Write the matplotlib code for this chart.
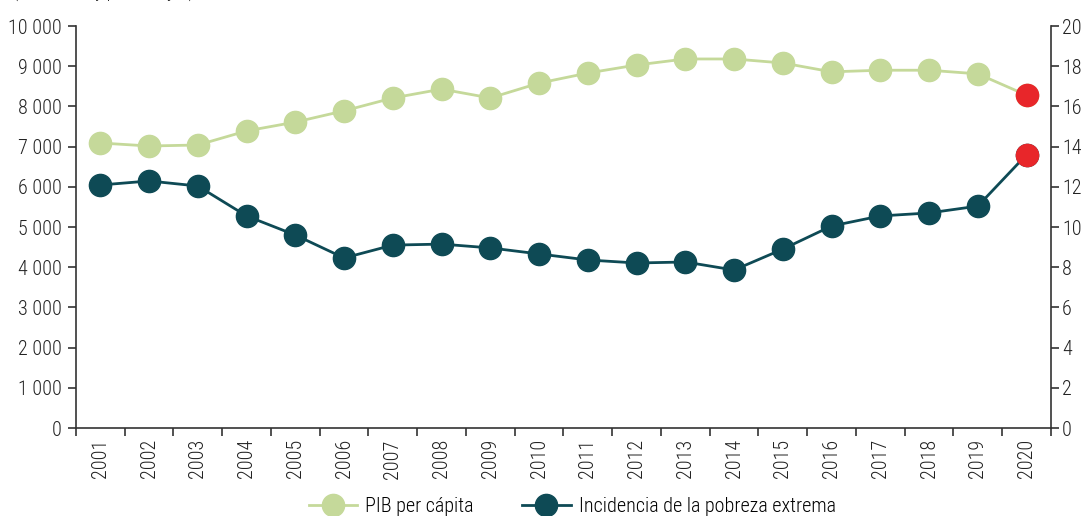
import matplotlib.pyplot as plt
import numpy as np
from matplotlib.lines import Line2D

years = [str(y) for y in range(2001, 2021)]
pib = [7090, 7015, 7040, 7390, 7610, 7890, 8210, 8430, 8210, 8580,
       8830, 9030, 9180, 9180, 9080, 8860, 8900, 8900, 8810, 8280]
pobreza = [12.09, 12.29, 12.04, 10.55, 9.6, 8.46, 9.1, 9.15, 8.96, 8.66,
           8.36, 8.21, 8.26, 7.86, 8.9, 10.05, 10.55, 10.7, 11.04, 13.6]
y_left = list(range(0, 10001, 1000))
y_right = list(range(0, 21, 2))

verde = "#c5d99a"
azul = "#0e4a55"
rojo = "#e8262a"

plt.rcParams['font.family'] = ['Roboto Condensed', 'DejaVu Sans']
plt.rcParams['font.weight'] = 'light'

fig = plt.figure(figsize=(10.82, 5.16), dpi=100)
ax = fig.add_axes([0.0702, 0.1705, 0.9011, 0.7791])
ax2 = ax.twinx()

x = np.arange(len(years))
ax.plot(x, pib, color=verde, lw=2, marker="o", ms=16, zorder=3)
ax.plot(x[-1], pib[-1], "o", color=rojo, ms=16, zorder=4)
ax2.plot(x, pobreza, color=azul, lw=2, marker="o", ms=16, zorder=3)
ax2.plot(x[-1], pobreza[-1], "o", color=rojo, ms=16, zorder=4)

ax.set_xlim(-0.5, len(years) - 0.5)
ax.set_ylim(0, 10000)
ax2.set_ylim(0, 20)
ax.set_yticks(y_left)
ax.set_yticklabels([f"{v:,}".replace(",", " ") for v in y_left])
ax2.set_yticks(y_right)

# ticks en los bordes de cada año, etiquetas centradas
ax.set_xticks(np.arange(-0.5, len(years), 1))
ax.set_xticklabels([])
ax.set_xticks(x, minor=True)
ax.set_xticklabels(years, minor=True, rotation=90)

for a in (ax, ax2):
    a.spines["top"].set_visible(False)
    a.tick_params(which="both", labelsize=14.5, color="#333333", labelcolor="#222222",
                  length=6, width=1.2)
    for s in a.spines.values():
        s.set_color("#333333")
        s.set_linewidth(1.2)
ax.tick_params(axis="x", which="minor", length=0, pad=8)
ax.tick_params(axis="y", pad=4)
ax2.tick_params(axis="y", pad=2)
ax2.spines["left"].set_visible(False)
ax2.spines["bottom"].set_visible(False)
ax.spines["right"].set_visible(False)

fig.text(0.012, 1.0 + 2 / 516, "(En dólares y porcentajes)", fontsize=13,
         color="#222222", va="baseline")

handles = [Line2D([], [], color=verde, lw=2, marker="o", ms=16),
           Line2D([], [], color=azul, lw=2, marker="o", ms=16)]
fig.legend(handles, ["PIB per cápita", "Incidencia de la pobreza extrema"],
           loc="lower center", bbox_to_anchor=(0.529, -0.035), ncol=2, frameon=False,
           fontsize=14.5, handlelength=2.4, columnspacing=2.4, handletextpad=0.4)

fig.savefig("out.png", dpi=100)
